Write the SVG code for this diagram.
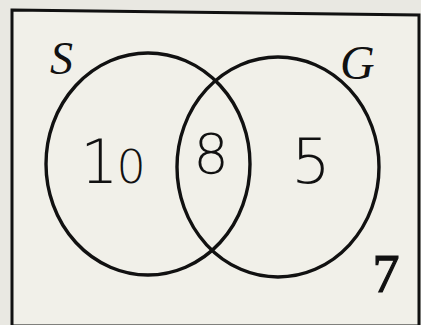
<svg xmlns="http://www.w3.org/2000/svg" width="421" height="325" viewBox="0 0 421 325">
<style>
.bg{fill:#e9e8e2}
.frame{fill:#f1f0e9;stroke:#111;stroke-width:3}
.set{fill:none;stroke:#111;stroke-width:3.4}
.lbl{font-family:"Liberation Serif",serif;font-style:italic;fill:#111}
.num{font-family:"DejaVu Sans","Liberation Sans",sans-serif;font-weight:200;fill:#111;text-anchor:middle}
.out{font-family:"Liberation Serif",serif;fill:#111;text-anchor:middle;stroke:#111;stroke-width:1.2}
</style>
<rect class="bg" x="0" y="0" width="421" height="325"/>
<polygon class="frame" points="12,10 419,15 419,326 12,326"/>
<g id="S">
<ellipse class="set" cx="148" cy="164" rx="102" ry="111"/>
<text class="lbl" x="50" y="74" font-size="46">S</text>
<text class="num" x="113" y="183" font-size="58"><tspan font-size="60">1</tspan><tspan font-size="46" dx="-2">0</tspan></text>
</g>
<g id="G">
<ellipse class="set" cx="278" cy="167" rx="101" ry="110"/>
<text class="lbl" x="340" y="79" font-size="48">G</text>
<text class="num" x="311" y="183" font-size="62">5</text>
</g>
<g id="SG">
<text class="num" x="211" y="173" font-size="56" font-weight="400">8</text>
</g>
<g id="none">
<text class="out" x="386" y="292" font-size="54">7</text>
</g>
</svg>
